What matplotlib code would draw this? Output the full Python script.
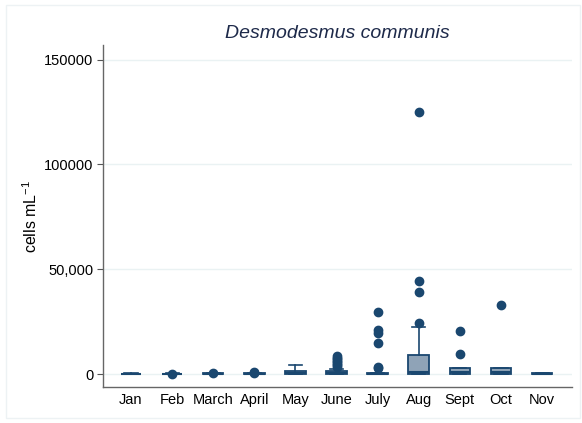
import matplotlib.pyplot as plt
from matplotlib.patches import Rectangle

plt.rcParams['font.family'] = ['Liberation Sans', 'DejaVu Sans']
plt.rcParams['mathtext.default'] = 'regular'

months = ['Jan', 'Feb', 'March', 'April', 'May', 'June', 'July', 'Aug', 'Sept', 'Oct', 'Nov']
q1 = [0, 0, 0, 0, 0, 0, 0, 200, 200, 200, 0]
med = [50, 50, 100, 100, 500, 400, 0, 800, 1200, 900, 100]
q3 = [250, 200, 300, 300, 1500, 1500, 300, 9000, 2800, 2800, 400]
whislo = [0, 0, 0, 0, 0, 0, 0, 0, 0, 0, 0]
whishi = [300, 300, 400, 400, 4500, 2400, 500, 22400, 2800, 2800, 500]
fliers = [
    [],
    [100],
    [400],
    [500, 900],
    [],
    [3500, 4200, 5000, 5700, 6400, 7100, 7800, 8600],
    [3000, 3500, 14800, 19600, 21000, 29800],
    [24600, 39300, 44300, 125100],
    [9400, 20500],
    [33100],
    [],
]

navy = '#1a476f'

stats = []
for i in range(len(months)):
    stats.append({'med': med[i], 'q1': q1[i], 'q3': q3[i],
                  'whislo': whislo[i], 'whishi': whishi[i],
                  'fliers': fliers[i], 'label': months[i]})

fig = plt.figure(figsize=(5.82, 4.23), dpi=100)
fig.patches.append(Rectangle((0.011, 0.012), 0.986, 0.976, transform=fig.transFigure,
                             fill=False, edgecolor='#edf2f4', lw=1))
ax = fig.add_axes([0.177, 0.085, 0.806, 0.809])

ax.bxp(stats, positions=range(1, len(months) + 1), widths=0.5, patch_artist=True,
       boxprops=dict(facecolor='#8fa3b7', edgecolor=navy, lw=1.3),
       medianprops=dict(color=navy, lw=1.5),
       whiskerprops=dict(color=navy, lw=1.2),
       capprops=dict(color=navy, lw=1.2),
       capwidths=0.32,
       flierprops=dict(marker='o', markerfacecolor=navy, markeredgecolor=navy, markersize=6))

ax.set_xlim(0.32, 11.73)
ax.set_ylim(-6200, 157100)
ax.set_yticks([0, 50000, 100000, 150000])
ax.set_yticklabels(['0', '50,000', '100000', '150000'], fontsize=10.5)
ax.tick_params(axis='y', length=4, color='#555555', pad=3)
ax.tick_params(axis='x', length=0, pad=4, labelsize=10.5)
ax.yaxis.grid(True, color='#eaf2f3', lw=1)
ax.set_axisbelow(True)
for s in ['top', 'right']:
    ax.spines[s].set_visible(False)
for s in ['left', 'bottom']:
    ax.spines[s].set_color('#666666')
    ax.spines[s].set_linewidth(1)

ax.set_ylabel('cells mL$^{-1}$', fontsize=11.5, labelpad=3)
ax.set_title('Desmodesmus communis', style='italic', fontsize=14, color='#1e2a4a', pad=5)

fig.savefig('out.png', dpi=100)
